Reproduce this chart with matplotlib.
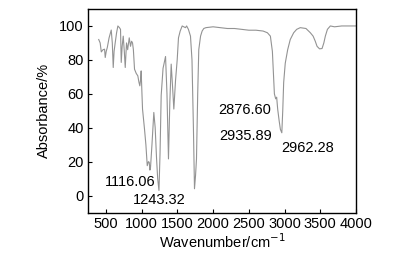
import matplotlib
matplotlib.use("Agg")
import matplotlib.pyplot as plt

plt.rcParams['font.family'] = ['Liberation Sans', 'DejaVu Sans']

# FTIR spectrum (wavenumber cm-1, absorbance %)
wavenumber = [400, 420, 436, 460, 482, 491, 505, 520, 545, 575, 590, 603, 615, 631,
              650, 668, 690, 705, 715, 728, 743, 758, 771, 789, 805, 827, 845, 860,
              873, 885, 901, 925, 947, 962, 975, 985, 994, 1005, 1013, 1041, 1060,
              1079, 1095, 1107, 1116, 1125, 1145, 1171, 1190, 1209, 1225, 1243, 1258,
              1274, 1300, 1335, 1355, 1376, 1395, 1414, 1432, 1451, 1475, 1498, 1516,
              1540, 1568, 1590, 1614, 1630, 1655, 1684, 1705, 1725, 1740, 1755, 1768,
              1785, 1800, 1825, 1847, 1870, 1900, 2000, 2100, 2200, 2300, 2400, 2500,
              2600, 2700, 2760, 2802, 2830, 2858, 2876, 2890, 2904, 2925, 2942, 2962,
              2975, 2988, 3010, 3044, 3080, 3128, 3170, 3220, 3300, 3361, 3400, 3430,
              3455, 3490, 3525, 3550, 3571, 3600, 3641, 3700, 3800, 3900, 4000]
absorbance = [92, 90, 84.7, 86, 86.3, 81.4, 85, 87.3, 93, 97.6, 90, 75.5, 85, 90.2,
              96, 100, 99, 98, 78.5, 88, 94, 85, 75.5, 90, 86, 93, 88, 91,
              90, 86, 74.5, 72, 70.6, 67, 64.7, 68, 73.5, 60, 51, 39, 30,
              17.6, 20, 19.6, 15, 16.7, 30, 49, 40, 22, 10, 3, 25,
              59, 75, 82, 60, 21.6, 55, 77.5, 65, 51, 68, 80, 93,
              97, 100, 99.5, 99, 100, 98, 94, 80, 40, 4, 12, 21.6,
              60, 86, 94, 97, 98.5, 99, 99.5, 99, 98.5, 98.5, 98, 97.5,
              97.5, 97, 96, 94, 85, 60, 57, 58, 51, 44, 39, 37,
              50, 66.7, 78, 86, 92, 96, 98, 99, 98.5, 96, 94, 91,
              88, 86.5, 86.7, 90, 94, 98, 100, 99.5, 100, 100, 100]

peak_labels = ["1116.06", "1243.32", "2876.60", "2935.89", "2962.28"]
label_x = [1195, 873, 2812, 2830, 2956]
label_y = [7.8, -2.5, 50.4, 35, 28]
label_ha = ["right", "left", "right", "right", "left"]

xticks = [500, 1000, 1500, 2000, 2500, 3000, 3500, 4000]
yticks = [0, 20, 40, 60, 80, 100]

fig = plt.figure(figsize=(3.99, 2.61), dpi=100)
ax = fig.add_axes([88/399, 1-212.5/261, (356-88)/399, (212.5-9)/261])
ax.plot(wavenumber, absorbance, color='#939393', lw=0.8)
ax.set_xlim(250, 4000)
ax.set_ylim(-10, 110)
ax.set_xticks(xticks)
ax.set_yticks(yticks)
ax.tick_params(direction='in', length=3, width=0.8, labelsize=10.5, pad=3)
for s in ax.spines.values():
    s.set_linewidth(1.0)
for t, x, y, ha in zip(peak_labels, label_x, label_y, label_ha):
    ax.text(x, y, t, ha=ha, va='center', fontsize=10.5)
ax.set_xlabel('Wavenumber/cm$^{-1}$', fontsize=10.5, labelpad=1)
ax.set_ylabel('Absorbance/%', fontsize=10.5, labelpad=6)
fig.savefig('out.png', dpi=100)
